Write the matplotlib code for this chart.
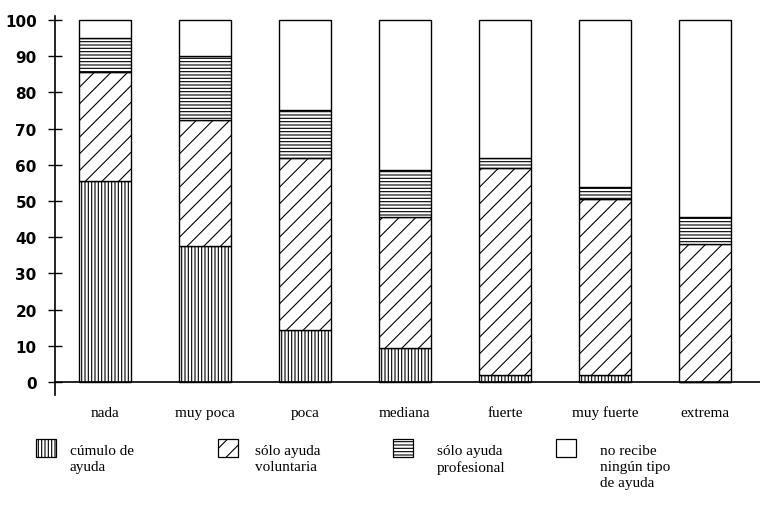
import numpy as np
import matplotlib.pyplot as plt
from matplotlib.patches import Rectangle

plt.rcParams['hatch.linewidth'] = 0.8

## Data (percent of each group)
categories = ['nada', 'muy poca', 'poca', 'mediana', 'fuerte', 'muy fuerte', 'extrema']
cumulo = [55.5, 37.5, 14.5, 9.5, 2.0, 2.0, 0.0]
voluntaria = [30.0, 35.0, 47.5, 36.0, 57.0, 48.5, 38.0]
profesional = [9.5, 17.5, 13.0, 13.0, 3.0, 3.5, 7.5]
ninguna = [5.0, 10.0, 25.0, 41.5, 38.0, 46.0, 54.5]

series = [cumulo, voluntaria, profesional, ninguna]
hatches = ['|||||', '//', '-----', '']
legend_labels = ['cúmulo de\nayuda', 'sólo ayuda\nvoluntaria', 'sólo ayuda\nprofesional',
                 'no recibe\nningún tipo\nde ayuda']

fig = plt.figure(figsize=(7.6, 5.1), dpi=100)
ax = fig.add_axes([0.072, 0.224, 0.928, 0.742])

x = np.arange(len(categories))
bottom = np.zeros(len(categories))
for vals, h in zip(series, hatches):
    ax.bar(x, vals, width=0.52, bottom=bottom, facecolor='white', edgecolor='black',
           hatch=h, linewidth=1.0)
    bottom += np.array(vals)

ax.set_xlim(-0.5, 6.55)
ax.set_ylim(-3.5, 101)
ax.spines['top'].set_visible(False)
ax.spines['right'].set_visible(False)
ax.spines['bottom'].set_position(('data', 0))
ax.spines['left'].set_linewidth(1.2)
ax.spines['bottom'].set_linewidth(1.2)

ax.set_yticks(np.arange(0, 101, 10))
ax.tick_params(axis='y', direction='inout', length=10, width=1, pad=8,
               labelsize=11)
for lab in ax.get_yticklabels():
    lab.set_fontfamily('DejaVu Sans')
    lab.set_fontweight('bold')

ax.set_xticks(x)
ax.set_xticklabels(categories, fontfamily='Liberation Serif', fontsize=11)
ax.tick_params(axis='x', length=0, pad=17)

# legend drawn manually below the chart
patch_x = [36, 218, 393, 556]
text_x = [70, 255, 437, 600]
W, H = 760, 510
for px, tx, h, lab in zip(patch_x, text_x, hatches, legend_labels):
    r = Rectangle((px / W, 1 - 458 / H), 20 / W, 18 / H, transform=fig.transFigure,
                  facecolor='white', edgecolor='black', hatch=h, linewidth=0.9)
    fig.add_artist(r)
    fig.text(tx / W, 1 - 445 / H, lab, fontfamily='Liberation Serif', fontsize=11,
             va='top', ha='left', linespacing=1.3)

plt.savefig('out.png', dpi=100)
